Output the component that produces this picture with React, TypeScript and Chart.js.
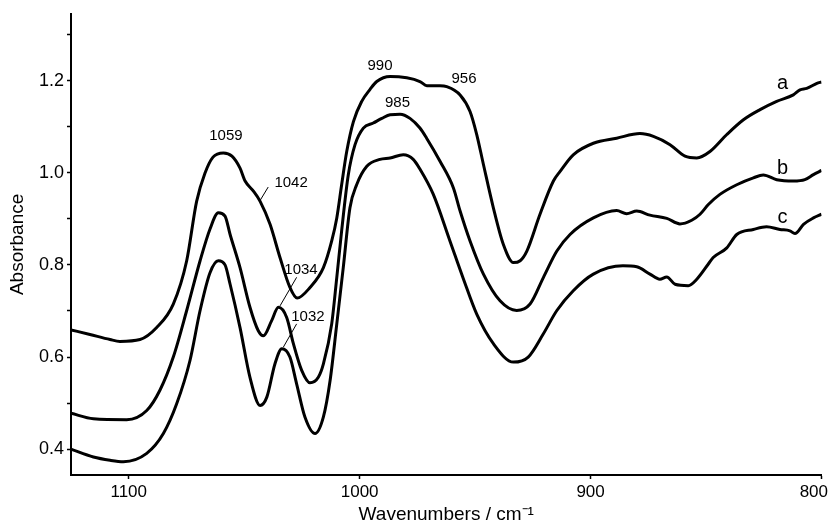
import React, { useEffect, useRef } from "react";
import { Chart, registerables } from "chart.js";

Chart.register(...registerables);

// Curve a
const aWave = [1125, 1116.8, 1108.1, 1103.8, 1095.1, 1087.9, 1080.7, 1074.9, 1070.6, 1067.0, 1063.5, 1059.0, 1055.3, 1051.8, 1049.6, 1046.0, 1043.1, 1038.8, 1034.5, 1030.2, 1027.1, 1021.5, 1015.7, 1012.1, 1009.9, 1007.8, 1005.6, 1002.7, 999.1, 995.5, 992.6, 986.8, 979.6, 973.9, 970.9, 965.2, 962.3, 956.5, 952.2, 949.3, 946.4, 942.1, 937.8, 933.4, 930.5, 927.6, 921.9, 916.1, 913.2, 907.5, 898.8, 888.7, 878.6, 872.8, 865.6, 859.1, 854.0, 848.3, 841.0, 833.8, 826.6, 819.4, 812.2, 809.3, 806.4, 802.0, 800];
const aAbs = [0.659, 0.649, 0.638, 0.634, 0.638, 0.664, 0.715, 0.809, 0.938, 0.999, 1.034, 1.043, 1.036, 1.010, 0.982, 0.960, 0.938, 0.888, 0.816, 0.751, 0.728, 0.751, 0.794, 0.852, 0.902, 0.974, 1.046, 1.111, 1.155, 1.181, 1.198, 1.209, 1.206, 1.198, 1.189, 1.189, 1.187, 1.169, 1.133, 1.083, 1.018, 0.924, 0.845, 0.805, 0.809, 0.830, 0.910, 0.982, 1.003, 1.039, 1.064, 1.075, 1.085, 1.079, 1.061, 1.036, 1.032, 1.046, 1.083, 1.115, 1.137, 1.155, 1.169, 1.180, 1.183, 1.194, 1.197];

// Curve b
const bWave = [1125, 1115.3, 1100.9, 1092.2, 1086.5, 1080.7, 1074.9, 1069.1, 1064.8, 1061.2, 1058.3, 1056.1, 1051.8, 1047.5, 1043.9, 1041.7, 1038.1, 1035.2, 1031.6, 1028.7, 1025.1, 1021.5, 1017.9, 1015.7, 1012.1, 1009.9, 1007.8, 1004.9, 1002.0, 998.4, 994.1, 990.4, 986.8, 982.5, 978.2, 973.9, 971.0, 965.2, 959.4, 956.5, 952.2, 946.4, 939.2, 932.0, 926.2, 920.4, 914.6, 908.9, 898.8, 888.7, 884.4, 880.0, 874.3, 867.0, 861.3, 856.2, 852.6, 849.0, 844.0, 836.7, 829.5, 825.2, 819.4, 812.2, 807.2, 803.5, 800];
const bAbs = [0.478, 0.466, 0.464, 0.484, 0.528, 0.600, 0.701, 0.809, 0.878, 0.913, 0.906, 0.866, 0.794, 0.708, 0.657, 0.646, 0.679, 0.708, 0.686, 0.629, 0.571, 0.544, 0.556, 0.585, 0.672, 0.773, 0.874, 0.996, 1.061, 1.097, 1.108, 1.118, 1.126, 1.127, 1.118, 1.097, 1.075, 1.025, 0.967, 0.917, 0.852, 0.780, 0.722, 0.701, 0.715, 0.773, 0.830, 0.866, 0.902, 0.918, 0.911, 0.917, 0.908, 0.901, 0.889, 0.897, 0.910, 0.931, 0.953, 0.974, 0.989, 0.995, 0.985, 0.982, 0.985, 0.996, 1.005];

// Curve c
const cWave = [1125, 1115.3, 1108.1, 1102.3, 1092.2, 1085.0, 1079.2, 1073.5, 1069.1, 1064.8, 1061.2, 1058.3, 1056.1, 1051.8, 1047.5, 1043.1, 1040.2, 1036.7, 1033.7, 1030.2, 1027.3, 1023.7, 1019.3, 1015.7, 1012.8, 1009.9, 1007.1, 1004.2, 1001.3, 996.9, 991.2, 986.8, 981.1, 976.8, 973.9, 968.1, 960.9, 955.1, 949.3, 942.1, 933.4, 927.0, 920.5, 914.6, 907.5, 898.8, 886.0, 880.0, 874.3, 870.0, 867.0, 863.4, 857.7, 854.0, 849.0, 846.9, 841.0, 836.7, 829.5, 823.8, 818.0, 813.7, 811.5, 807.8, 803.5, 800];
const cAbs = [0.400, 0.383, 0.376, 0.373, 0.391, 0.434, 0.499, 0.592, 0.701, 0.783, 0.809, 0.800, 0.758, 0.664, 0.556, 0.495, 0.513, 0.585, 0.618, 0.600, 0.542, 0.470, 0.434, 0.470, 0.549, 0.672, 0.794, 0.924, 0.974, 1.014, 1.029, 1.032, 1.039, 1.029, 1.008, 0.953, 0.852, 0.770, 0.693, 0.629, 0.589, 0.600, 0.650, 0.701, 0.744, 0.780, 0.798, 0.796, 0.780, 0.769, 0.774, 0.758, 0.755, 0.769, 0.802, 0.816, 0.837, 0.866, 0.877, 0.883, 0.877, 0.874, 0.868, 0.888, 0.902, 0.910];

const xTicks = [800, 900, 1000, 1100];
const yTicks = [0.4, 0.5, 0.6, 0.7, 0.8, 0.9, 1.0, 1.1, 1.2, 1.3];
const yLabelled = [0.4, 0.6, 0.8, 1.0, 1.2];

// Peak annotations: text, wavenumber, absorbance
const peakText = ["1059", "1042", "1034", "1032", "990", "956", "985"];
const peakWave = [1057.9, 1029.7, 1025.4, 1022.4, 991.2, 954.8, 983.6];
const peakAbs = [1.081, 0.979, 0.789, 0.688, 1.232, 1.204, 1.152];

// Leader lines: [wave1, abs1, wave2, abs2]
const leaderLines = [
  [1043.1, 0.940, 1039.6, 0.969],
  [1034.5, 0.711, 1027.3, 0.773],
  [1033.1, 0.621, 1027.3, 0.672],
];

const curveNames = ["a", "b", "c"];
const curveLabelWave = [816.9, 816.9, 816.9];
const curveLabelAbs = [1.194, 1.010, 0.902];

const FONT = "'Liberation Sans', Arial, Helvetica, sans-serif";

function toPoints(w: number[], a: number[]) {
  return w.map((x, i) => ({ x, y: a[i] }));
}

const annotationPlugin = {
  id: "annotations",
  afterDraw(chart: any) {
    const { ctx, scales } = chart;
    const xs = scales.x;
    const ys = scales.y;
    ctx.save();
    ctx.fillStyle = "#000";
    ctx.textAlign = "center";
    ctx.textBaseline = "middle";
    ctx.font = `15px ${FONT}`;
    peakText.forEach((t, i) => {
      ctx.fillText(t, xs.getPixelForValue(peakWave[i]), ys.getPixelForValue(peakAbs[i]));
    });
    ctx.strokeStyle = "#000";
    ctx.lineWidth = 1;
    leaderLines.forEach((l) => {
      ctx.beginPath();
      ctx.moveTo(xs.getPixelForValue(l[0]), ys.getPixelForValue(l[1]));
      ctx.lineTo(xs.getPixelForValue(l[2]), ys.getPixelForValue(l[3]));
      ctx.stroke();
    });
    ctx.font = `20px ${FONT}`;
    curveNames.forEach((n, i) => {
      ctx.fillText(n, xs.getPixelForValue(curveLabelWave[i]), ys.getPixelForValue(curveLabelAbs[i]));
    });
    // x tick labels, kept inside the canvas
    ctx.font = `17px ${FONT}`;
    ctx.textBaseline = "top";
    const W = chart.width;
    xTicks.forEach((v) => {
      const t = String(v);
      const w = ctx.measureText(t).width;
      let cx = xs.getPixelForValue(v);
      if (cx + w / 2 > W - 1) cx = W - 1 - w / 2;
      ctx.fillText(t, cx, xs.top + 9);
    });
    ctx.restore();
  },
};

export default function App() {
  const ref = useRef<HTMLCanvasElement | null>(null);
  useEffect(() => {
    if (!ref.current) return;
    const mk = (w: number[], a: number[]) => ({
      data: toPoints(w, a),
      borderColor: "#000",
      borderWidth: 3,
      pointRadius: 0,
      fill: false,
      cubicInterpolationMode: "monotone" as const,
      tension: 0.4,
    });
    const chart = new Chart(ref.current, {
      type: "line",
      data: {
        datasets: [mk(aWave, aAbs), mk(bWave, bAbs), mk(cWave, cAbs)],
      },
      options: {
        animation: false,
        responsive: false,
        layout: { padding: { top: 12, right: 7.5, left: 0, bottom: 0 } },
        plugins: { legend: { display: false }, tooltip: { enabled: false } },
        scales: {
          x: {
            type: "linear",
            reverse: true,
            min: 800,
            max: 1125,
            afterBuildTicks: (s: any) => {
              s.ticks = xTicks.map((v) => ({ value: v }));
            },
            afterFit: (s: any) => {
              s.height = 52;
            },
            border: { color: "#000", width: 2 },
            grid: { display: true, drawOnChartArea: false, drawTicks: true, tickLength: 4, tickColor: "#000", tickWidth: 1.5 },
            ticks: { display: false },
            title: {
              display: true,
              text: "Wavenumbers / cm\u207B\u00B9",
              color: "#000",
              font: { family: FONT, size: 19 },
              padding: { top: 0, bottom: 1 },
            },
          },
          y: {
            type: "linear",
            min: 0.344,
            max: 1.345,
            afterBuildTicks: (s: any) => {
              s.ticks = yTicks.map((v) => ({ value: v }));
            },
            afterFit: (s: any) => {
              s.width = 71;
            },
            border: { color: "#000", width: 2 },
            grid: { display: true, drawOnChartArea: false, drawTicks: true, tickLength: 4, tickColor: "#000", tickWidth: 1.5 },
            ticks: {
              color: "#000",
              padding: 3,
              font: { family: FONT, size: 18 },
              callback: (v: any) => {
                const n = Number(v);
                return yLabelled.some((l) => Math.abs(l - n) < 1e-6) ? n.toFixed(1) : "";
              },
            },
            title: {
              display: true,
              text: "Absorbance",
              color: "#000",
              font: { family: FONT, size: 19 },
              padding: { top: 6, bottom: 0 },
            },
          },
        },
      },
      plugins: [annotationPlugin],
    });
    return () => chart.destroy();
  }, []);
  return (
    <div style={{ position: "fixed", left: 0, top: 0, width: 829, height: 527, background: "#fff" }}>
      <canvas ref={ref} width={829} height={527} style={{ display: "block" }} />
    </div>
  );
}
